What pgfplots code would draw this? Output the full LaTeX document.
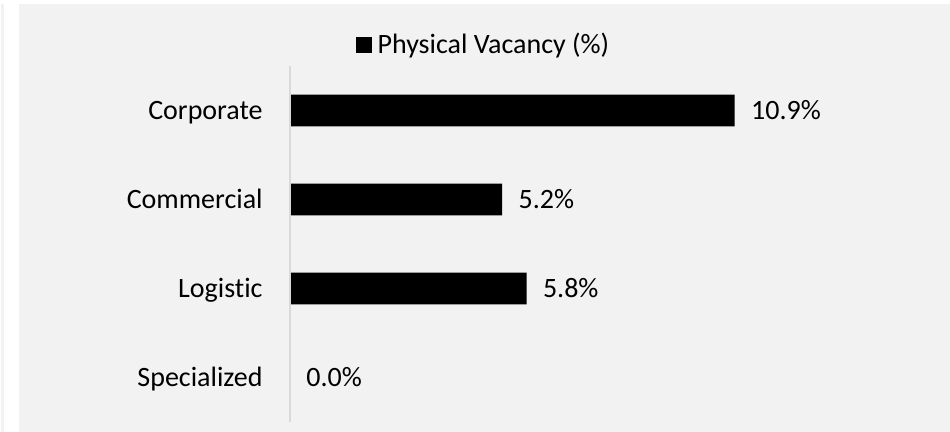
\documentclass[border=0pt]{standalone}
\usepackage{pgfplots}
\pgfplotsset{compat=1.18}
\usepackage{fontspec}
\setmainfont[Ligatures=NoCommon]{Carlito}

\definecolor{chartbg}{HTML}{F2F2F2}
\definecolor{axisgray}{HTML}{D9D9D9}

\begin{document}
\begin{tikzpicture}
  % page and chart area (1px = 0.5pt)
  \fill[white] (0,0) rectangle (475pt,-216pt);
  \fill[black!5] (0.3pt,-2pt) rectangle (2.2pt,-216pt);
  \fill[chartbg] (9.5pt,-2pt) rectangle (475pt,-216pt);

  \begin{axis}[
      at={(145pt,-211pt)}, anchor=south west,
      scale only axis,
      width=306pt, height=178pt,
      xbar, bar width=0.356,
      xmin=0, xmax=15,
      ymin=-0.5, ymax=3.5,
      axis x line=none,
      axis y line*=left,
      axis on top,
      y axis line style={axisgray, line width=0.8pt},
      ytick={0,1,2,3},
      yticklabels={Specialized,Logistic,Commercial,Corporate},
      major tick length=0pt,
      ytick style={draw=none},
      yticklabel style={inner sep=0pt, anchor=base east, xshift=-13.5pt, yshift=-4.5pt},
      font=\fontsize{14}{16}\selectfont,
      point meta=explicit symbolic,
      nodes near coords,
      every node near coord/.append style={anchor=base west, inner sep=0pt,
        xshift=8pt, yshift=-4.5pt, font=\fontsize{14}{16}\selectfont},
      legend style={at={(0.318,1.059)}, anchor=center, draw=none, fill=none,
        font=\fontsize{14}{16}\selectfont, inner sep=0pt,
        /tikz/every even column/.append style={column sep=0pt}},
      legend image code/.code={\fill[black] (0pt,-3.9pt) rectangle (7.8pt,3.9pt);},
      legend cell align=left,
      clip=false,
    ]
    \addplot[fill=black, draw=none] coordinates {
      (0.0,0) [0.0\%]
      (5.8,1) [5.8\%]
      (5.2,2) [5.2\%]
      (10.9,3) [10.9\%]
    };
    \legend{\hspace{1pt}Physical Vacancy (\%)}
  \end{axis}
\end{tikzpicture}
\end{document}
